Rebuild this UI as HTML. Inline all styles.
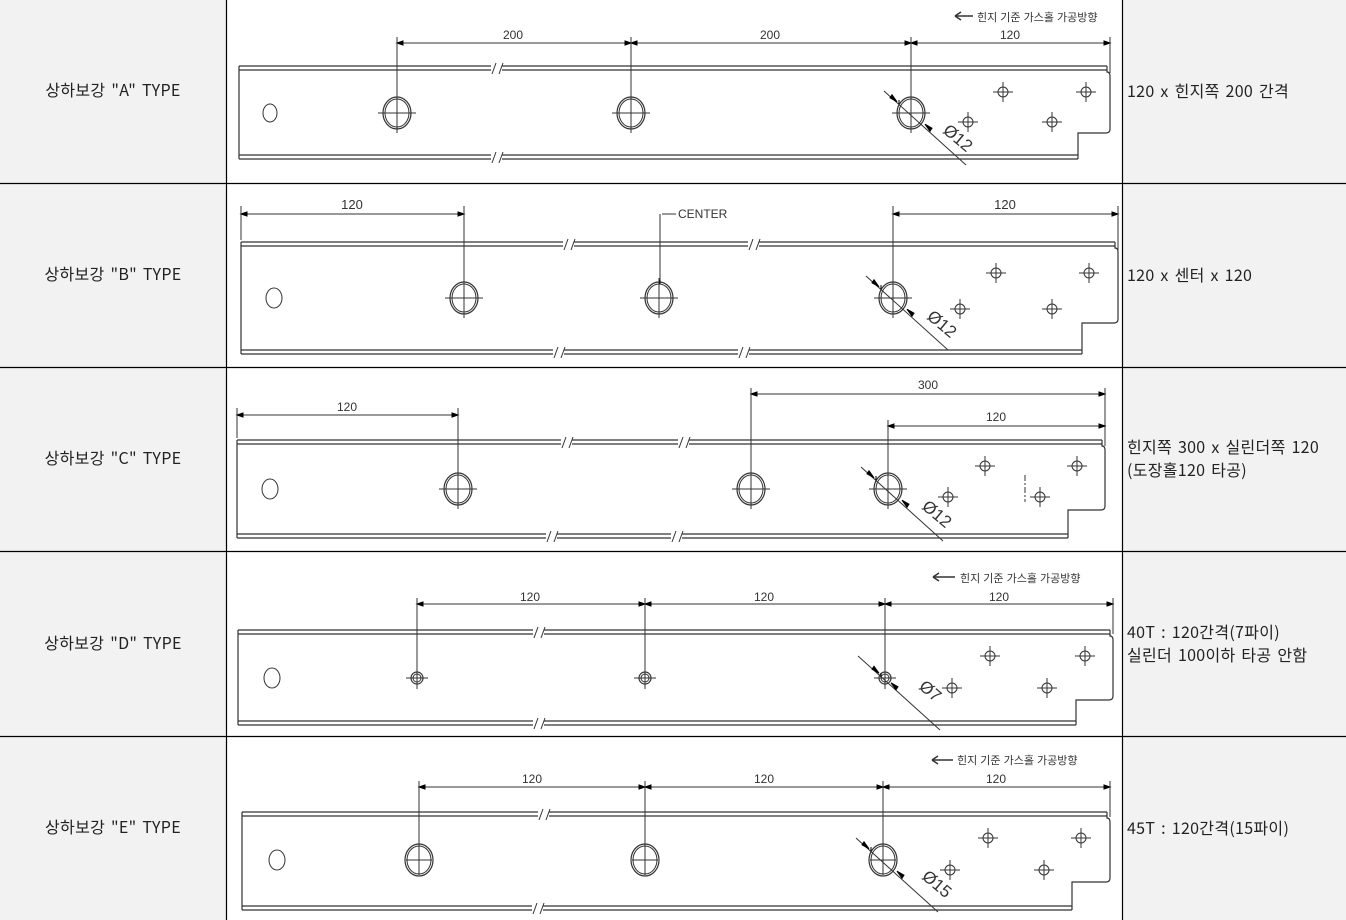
<!DOCTYPE html>
<html><head><meta charset="utf-8"><style>
html,body{margin:0;padding:0;background:#fff}
svg{display:block}
.l{font-family:"Noto Sans CJK KR",sans-serif;font-size:16px;fill:#222;word-spacing:2px;letter-spacing:0.3px}
.d{font-family:"Liberation Sans","Noto Sans CJK KR",sans-serif;font-size:12px;fill:#333}
</style></head><body>
<svg id="s" width="1346" height="920" xmlns="http://www.w3.org/2000/svg">
<rect x="0" y="0" width="227" height="920" fill="#f2f2f2"/>
<rect x="1122" y="0" width="224" height="920" fill="#f2f2f2"/>
<g stroke="#000" stroke-width="1.2">
<line x1="0" y1="183.5" x2="1346" y2="183.5"/>
<line x1="0" y1="367.5" x2="1346" y2="367.5"/>
<line x1="0" y1="551.5" x2="1346" y2="551.5"/>
<line x1="0" y1="736.5" x2="1346" y2="736.5"/>
<line x1="226.5" y1="0" x2="226.5" y2="920"/>
<line x1="1122.5" y1="0" x2="1122.5" y2="920"/>
</g>
<text class="l" x="113" y="96" text-anchor="middle">상하보강 "A" TYPE</text>
<text class="l" x="113" y="280" text-anchor="middle">상하보강 "B" TYPE</text>
<text class="l" x="113" y="464" text-anchor="middle">상하보강 "C" TYPE</text>
<text class="l" x="113" y="649" text-anchor="middle">상하보강 "D" TYPE</text>
<text class="l" x="113" y="833" text-anchor="middle">상하보강 "E" TYPE</text>
<text class="l" x="1127" y="97">120 x 힌지쪽 200 간격</text>
<text class="l" x="1127" y="281">120 x 센터 x 120</text>
<text class="l" x="1127" y="453">힌지쪽 300 x 실린더쪽 120</text>
<text class="l" x="1127" y="476">(도장홀120 타공)</text>
<text class="l" x="1127" y="638">40T : 120간격(7파이)</text>
<text class="l" x="1127" y="661">실린더 100이하 타공 안함</text>
<text class="l" x="1127" y="834">45T : 120간격(15파이)</text>

<text class="d" x="513" y="39" text-anchor="middle">200</text>
<text class="d" x="770" y="39" text-anchor="middle">200</text>
<text class="d" x="1010" y="39" text-anchor="middle">120</text>
<text class="d" x="977" y="21" style="font-size:11px">힌지 기준 가스홀 가공방향</text>

<text class="d" x="352" y="209" text-anchor="middle" style="font-size:13px">120</text>
<text class="d" x="1005" y="209" text-anchor="middle" style="font-size:13px">120</text>
<text class="d" x="678" y="218">CENTER</text>

<text class="d" x="347" y="411" text-anchor="middle">120</text>
<text class="d" x="928" y="389" text-anchor="middle">300</text>
<text class="d" x="996" y="421" text-anchor="middle">120</text>

<text class="d" x="530" y="601" text-anchor="middle">120</text>
<text class="d" x="764" y="601" text-anchor="middle">120</text>
<text class="d" x="999" y="601" text-anchor="middle">120</text>
<text class="d" x="960" y="582" style="font-size:11px">힌지 기준 가스홀 가공방향</text>

<text class="d" x="532" y="783" text-anchor="middle">120</text>
<text class="d" x="764" y="783" text-anchor="middle">120</text>
<text class="d" x="996" y="783" text-anchor="middle">120</text>
<text class="d" x="957" y="764" style="font-size:11px">힌지 기준 가스홀 가공방향</text>

<text class="d" style="font-size:17px" transform="translate(942,132) rotate(40)">Ø12</text>
<text class="d" style="font-size:17px" transform="translate(926,318) rotate(40)">Ø12</text>
<text class="d" style="font-size:17px" transform="translate(921,508) rotate(40)">Ø12</text>
<text class="d" style="font-size:17px" transform="translate(918,688) rotate(40)">Ø7</text>
<text class="d" style="font-size:17px" transform="translate(921,878) rotate(40)">Ø15</text>
</svg>
<script>
var s=document.getElementById('s'),NS='http://www.w3.org/2000/svg';
function el(t,a){var e=document.createElementNS(NS,t);for(var k in a)e.setAttribute(k,a[k]);e.setAttribute('fill',a.fill||'none');e.setAttribute('stroke',a.stroke||'#333');if(!a['stroke-width'])e.setAttribute('stroke-width','1');s.appendChild(e);return e;}
function L(x1,y1,x2,y2,w){el('line',{x1:x1,y1:y1,x2:x2,y2:y2,'stroke-width':w||1});}
function hl(y,x1,x2,br){var xs=[x1];br.forEach(function(b){xs.push(b-4);xs.push(b+7);});xs.push(x2);for(var i=0;i<xs.length;i+=2)L(xs[i],y,xs[i+1],y,1.2);}
function brk(b,y){L(b-3,y+7,b+1,y-4);L(b+4,y+7,b+8,y-4);}
function plate(x1,x2,t,b,sy,sx,bt,bb){
 hl(t,x1,x2-3,bt);hl(t+4,x1,x2-3,bt);bt.forEach(function(v){brk(v,t+1);});
 hl(b,x1,sx,bb);hl(b+4,x1,sx,bb);bb.forEach(function(v){brk(v,b+1);});
 L(x1,t,x1,b+4,1.2);
 el('path',{d:'M'+(x2-3)+' '+t+' L'+(x2-3)+' '+(t+6)+' Q'+x2+' '+(t+6)+' '+x2+' '+(t+10)+' L'+x2+' '+(sy-4)+' Q'+x2+' '+sy+' '+(x2-4)+' '+sy+' L'+sx+' '+sy+' L'+sx+' '+(b+4),'stroke-width':1.2});
}
function big(x,y,r){el('ellipse',{cx:x,cy:y,rx:r-1,ry:r+1,'stroke-width':1.2});el('ellipse',{cx:x,cy:y,rx:r-3,ry:r-1});L(x-r-4,y,x+r+4,y);L(x,y-r-5,x,y+r+5);}
function ch(x,y){el('circle',{cx:x,cy:y,r:5});L(x-10,y,x+10,y);L(x,y-10,x,y+10);}
function arr(x,y,d){el('path',{d:'M'+x+' '+y+' l'+(-6*d)+' -2 l0 4z',fill:'#000',stroke:'#000'});}
function dim(y,pts,hy){for(var i=0;i<pts.length-1;i++){L(pts[i],y,pts[i+1],y);arr(pts[i],y,-1);arr(pts[i+1],y,1);}
 pts.forEach(function(p,i){L(p,y-6,p,i==pts.length-1?y+30:hy);});}
function lead(x,y,r){L(x-27,y-22,x+55,y+52);arr(x-r+2,y-r+3,0);
 el('path',{d:'M'+(x-r)+' '+(y-r*0.8)+' l-7 -4 l2 -3z',fill:'#000',stroke:'#000'});
 el('path',{d:'M'+(x+r)+' '+(y+r*0.8)+' l7 4 l-2 3z',fill:'#000',stroke:'#000'});}
function arrowTxt(x1,x2,y){L(x1,y,x2,y,1.5);el('path',{d:'M'+x1+' '+y+' l6 -4 M'+x1+' '+y+' l6 4','stroke-width':1.5});}
plate(239,1110,66,155,133,1078,[495],[495]);
el('ellipse',{cx:270,cy:113,rx:7,ry:9});
[397,631,911].forEach(function(x){big(x,113,15);});
[[1003,92],[1086,92],[968,122],[1052,122]].forEach(function(p){ch(p[0],p[1]);});
dim(43,[397,631,911,1110],113);lead(911,113,14);arrowTxt(955,973,16);
plate(241,1118,242,350,323,1082,[567,752],[557,742]);
el('ellipse',{cx:274,cy:298,rx:8,ry:10});
[464,659,893].forEach(function(x){big(x,298,15);});
[[996,273],[1089,273],[960,309],[1052,309]].forEach(function(p){ch(p[0],p[1]);});
L(241,214,464,214);arr(241,214,-1);arr(464,214,1);L(241,206,241,240);L(464,206,464,298);
L(893,214,1118,214);arr(893,214,-1);arr(1118,214,1);L(893,206,893,298);L(1118,206,1118,250);
L(662,214,676,214);L(660,214,660,282);arr(660,282,0);lead(893,298,14);
plate(237,1105,440,534,510,1068,[565,682],[550,675]);
el('ellipse',{cx:270,cy:489,rx:8,ry:10});
[458,751,888].forEach(function(x){big(x,489,15);});
[[985,466],[1077,466],[948,497],[1040,497]].forEach(function(p){ch(p[0],p[1]);});
L(237,415,458,415);arr(237,415,-1);arr(458,415,1);L(237,408,237,438);L(458,408,458,489);
L(751,394,1105,394);arr(751,394,-1);arr(1105,394,1);L(751,388,751,489);L(1105,388,1105,446);
L(888,426,1105,426);arr(888,426,-1);arr(1105,426,1);L(888,420,888,489);
el('line',{x1:1025,y1:475,x2:1025,y2:502,'stroke-dasharray':'6 2 2 2'});
lead(888,489,14);
plate(238,1113,630,721,700,1076,[537],[537]);
el('ellipse',{cx:272,cy:678,rx:8,ry:10});
[417,645,885].forEach(function(x){el('circle',{cx:x,cy:678,r:6,'stroke-width':1.2});el('circle',{cx:x,cy:678,r:4});L(x-11,678,x+11,678);L(x,667,x,689);});
[[990,656],[1085,656],[952,688],[1047,688]].forEach(function(p){ch(p[0],p[1]);});
dim(604,[417,645,885,1113],678);lead(885,678,6);arrowTxt(933,955,577);
plate(242,1110,812,906,882,1072,[542],[536]);
el('ellipse',{cx:277,cy:860,rx:8,ry:10});
[419,645,883].forEach(function(x){el('ellipse',{cx:x,cy:860,rx:14,ry:16,'stroke-width':1.2});el('ellipse',{cx:x,cy:860,rx:12,ry:14});L(x-13,860,x+13,860);L(x,845,x,875);});
[[988,838],[1081,838],[950,870],[1044,870]].forEach(function(p){ch(p[0],p[1]);});
dim(787,[419,645,883,1110],860);lead(883,860,14);arrowTxt(932,953,760);
</script>
</body></html>
